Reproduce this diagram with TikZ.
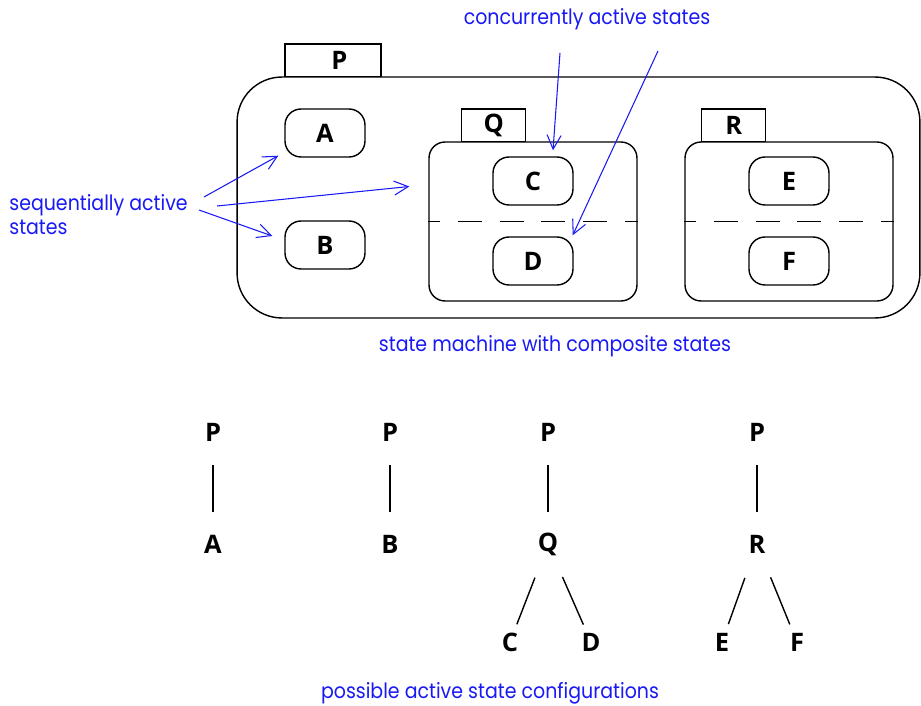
\documentclass[tikz,border=0pt]{standalone}
\usepackage{fontspec}
\setsansfont{Open Sans}
\newfontfamily\notefont{Poppins}[FakeStretch=0.9]
\usetikzlibrary{arrows.meta}
\usetikzlibrary{calc}
\definecolor{noteblue}{RGB}{25,25,245}

\tikzset{
	label/.style={font=\sffamily\bfseries\fontsize{14.5}{16}\selectfont},
	state/.style={label, draw, line width=0.8pt, rounded corners=0.32cm, minimum width=1.6cm, minimum height=0.96cm},
	composite/.style={draw, line width=0.8pt, rounded corners=0.32cm, minimum width=4.16cm, minimum height=3.18cm, inner sep=0pt},
	machine/.style={draw, line width=0.8pt, rounded corners=0.9cm, minimum width=13.66cm, minimum height=4.82cm, inner sep=0pt},
	tab/.style={label, draw, line width=0.8pt, minimum height=0.65cm, inner sep=0pt},
	region/.style={line width=0.8pt, dash pattern=on 13.6pt off 10.2pt, dash phase=7pt},
	note/.style={text=noteblue, inner sep=0pt, font=\notefont\fontsize{12}{13.7}\selectfont},
	note arrow/.style={draw=noteblue, line width=0.6pt, -{Straight Barb[length=8pt, width=8pt]}},
	trunk/.style={line width=0.8pt, shorten <=0.66cm, shorten >=0.64cm},
	branch/.style={line width=0.8pt, shorten <=0.72cm, shorten >=0.38cm}
}

\begin{document}
\begin{tikzpicture}[x=0.02cm, y=-0.02cm]
	\useasboundingbox (0,0) rectangle (921,706);

	% state machine
	\node[machine] (pbox) at (578.5,197.5) {};
	\node[tab, anchor=south, minimum width=1.92cm] (ptab) at (333,77) {\hspace{0.25cm}P};
	\node[state] (a) at (325,133) {A};
	\node[state] (b) at (325,245) {B};

	\node[composite] (qbox) at (533,221.5) {};
	\node[tab, anchor=south west, minimum width=1.28cm] (qtab) at (461,142) {Q};
	\node[state] (c) at (533,181) {C};
	\node[state] (d) at (533,261) {D};
	\draw[region] (qbox.west) -- (qbox.east);

	\node[composite] (rbox) at (789,221.5) {};
	\node[tab, anchor=south west, minimum width=1.28cm] (rtab) at (701,142) {R};
	\node[state] (e) at (789,181) {E};
	\node[state] (f) at (789,261) {F};
	\draw[region] (rbox.west) -- (rbox.east);

	% annotations
	\node[note, align=left, anchor=west] (seq) at (9,215) {sequentially active\\states};
	\node[note] (conc) at (587,19) {concurrently active states};
	\node[note] (cap1) at (555,346) {state machine with composite states};

	\coordinate (s1) at (204,197);
	\coordinate (s2) at (217,206);
	\coordinate (s3) at (199,210);
	\coordinate (k1) at (560,53);
	\coordinate (k2) at (658,51);
	\draw[note arrow] (s1) -- ([shift={(-6,-2)}]a.south west);
	\draw[note arrow] (s2) -- ([shift={(-19,-35)}]qbox.west);
	\draw[note arrow] (s3) -- ([shift={(-12,-9)}]b.west);
	\draw[note arrow] (k1) -- ([shift={(20,-6)}]c.north);
	\draw[note arrow] (k2) -- ([shift={(-1,-1)}]d.north east);

	% configurations
	\node[label] (p1) at (213,432) {P};
	\node[label] (a1) at (213,544) {A};
	\node[label] (p2) at (390,432) {P};
	\node[label] (b1) at (390,544) {B};
	\node[label] (p3) at (548,432) {P};
	\node[label] (q1) at (548,544) {Q};
	\node[label] (c1) at (510,642) {C};
	\node[label] (d1) at (591,642) {D};
	\node[label] (p4) at (757,432) {P};
	\node[label] (r1) at (757,544) {R};
	\node[label] (e1) at (722,642) {E};
	\node[label] (f1) at (797,642) {F};

	\draw[trunk] (p1.center) -- (a1.center);
	\draw[trunk] (p2.center) -- (b1.center);
	\draw[trunk] (p3.center) -- (q1.center);
	\draw[trunk] (p4.center) -- (r1.center);
	\draw[branch] (q1.center) -- (c1.center);
	\draw[branch] (q1.center) -- (d1.center);
	\draw[branch] (r1.center) -- (e1.center);
	\draw[branch] (r1.center) -- (f1.center);

	\node[note] (cap2) at (490,693) {possible active state configurations};
\end{tikzpicture}
\end{document}
